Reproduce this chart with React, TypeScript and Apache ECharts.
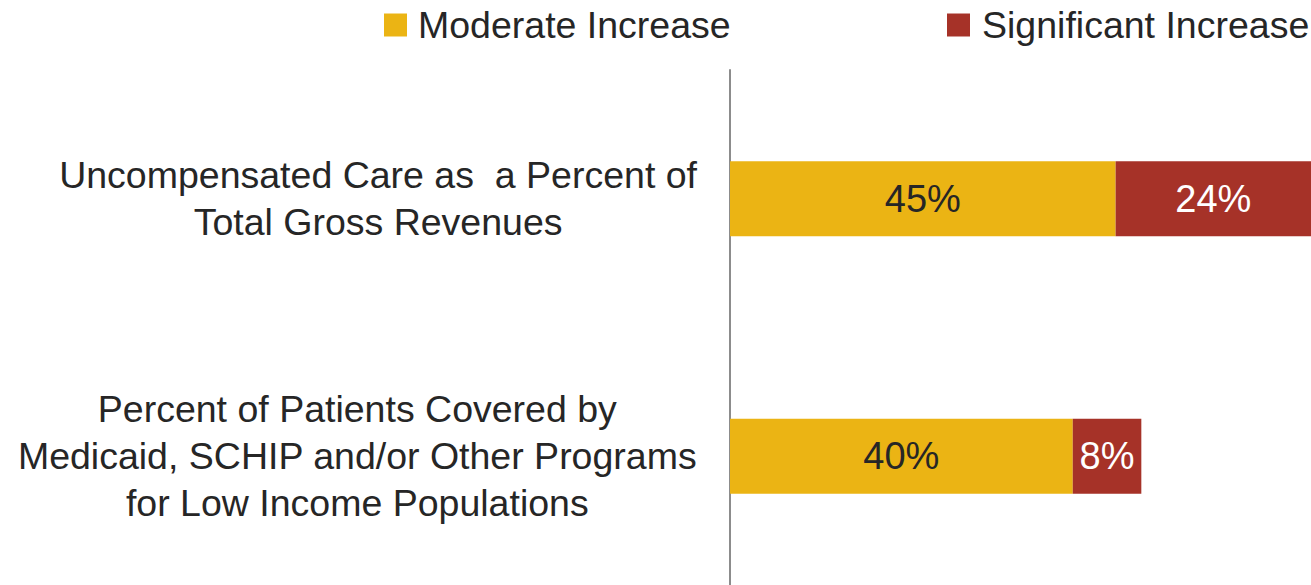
import React, { useEffect, useRef } from "react";
import * as echarts from "echarts";

const categories = [
  ["Uncompensated Care as  a Percent of", "Total Gross Revenues"],
  ["Percent of Patients Covered by", "Medicaid, SCHIP and/or Other Programs", "for Low Income Populations"],
];
const moderate = [45, 40];
const significant = [24, 8];
const seriesNames = ["Moderate Increase", "Significant Increase"];

const FONT = "'Liberation Sans', Arial, sans-serif";
const TEXT = "#262626";
const GOLD = "#EBB414";
const RED = "#A63228";

export default function App() {
  const ref = useRef<HTMLDivElement>(null);
  useEffect(() => {
    const chart = echarts.init(ref.current!, null, { renderer: "svg" });
    chart.setOption({
      animation: false,
      textStyle: { fontFamily: FONT },
      legend: [
        {
          data: [seriesNames[0]],
          left: 384,
          top: 6,
          padding: 0,
          itemWidth: 23,
          itemHeight: 23,
          icon: "rect",
          textStyle: { fontSize: 37.5, color: TEXT, fontFamily: FONT, padding: [0, 0, 0, 6] },
        },
        {
          data: [seriesNames[1]],
          left: 947,
          top: 6,
          padding: 0,
          itemWidth: 23,
          itemHeight: 23,
          icon: "rect",
          textStyle: { fontSize: 37.5, color: TEXT, fontFamily: FONT, padding: [0, 0, 0, 7] },
        },
      ],
      grid: { left: 730, right: 0, top: 70, bottom: 0, containLabel: false },
      xAxis: { type: "value", min: 0, max: 67.8, show: false },
      yAxis: {
        type: "category",
        inverse: true,
        data: categories.map((c) => c.join("\n")),
        axisLine: { show: true, lineStyle: { color: "#8c8c8c", width: 2 } },
        axisTick: { show: false },
        axisLabel: {
          margin: 33,
          formatter: (v: string) => v.split("\n").map((l) => "{a|" + l + "}").join("\n"),
          rich: {
            a: { fontSize: 37.5, lineHeight: 47, color: TEXT, fontFamily: FONT, align: "center" },
          },
        },
      },
      series: [
        {
          name: seriesNames[0],
          type: "bar",
          stack: "total",
          data: moderate,
          barWidth: 75,
          itemStyle: { color: GOLD },
          label: {
            show: true,
            position: "inside",
            formatter: "{c}%",
            fontSize: 38,
            color: TEXT,
            fontFamily: FONT,
          },
        },
        {
          name: seriesNames[1],
          type: "bar",
          stack: "total",
          data: significant,
          barWidth: 75,
          itemStyle: { color: RED },
          label: {
            show: true,
            position: "inside",
            formatter: "{c}%",
            fontSize: 38,
            color: "#ffffff",
            fontFamily: FONT,
          },
        },
      ],
    });
    return () => chart.dispose();
  }, []);
  return (
    <div
      ref={ref}
      style={{ position: "fixed", left: 0, top: 0, width: 1311, height: 585, background: "#fff" }}
    />
  );
}
